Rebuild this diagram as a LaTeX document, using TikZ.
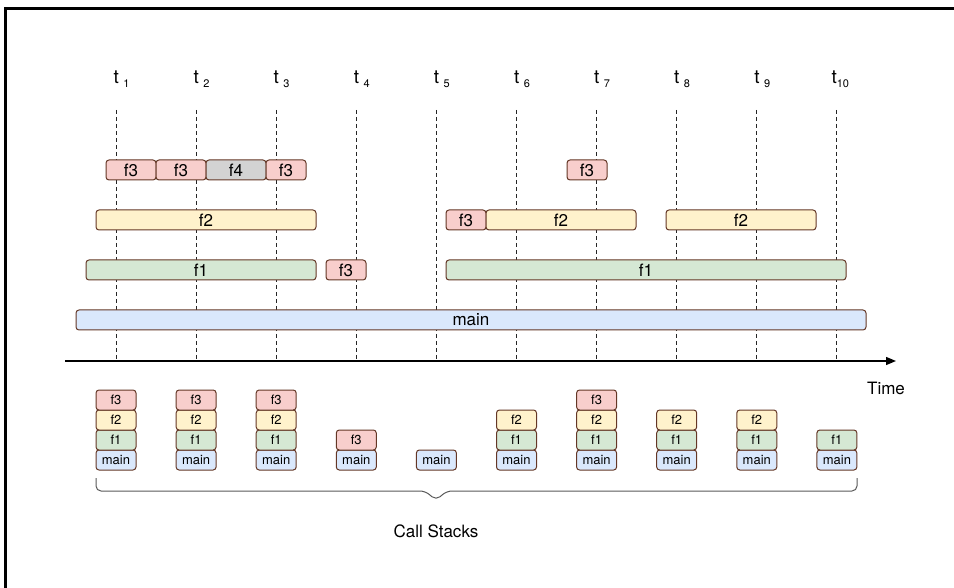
\documentclass[tikz,border=0pt]{standalone}
\usepackage{fontspec}
\setmainfont{TeX Gyre Heros}
\usetikzlibrary{arrows.meta}
\definecolor{cs_edge}{RGB}{100, 55, 38}
\definecolor{cs_red}{HTML}{F8CECC}
\definecolor{cs_yellow}{HTML}{FFF2CC}
\definecolor{cs_green}{HTML}{D5E8D4}
\definecolor{cs_blue}{HTML}{DAE8FC}
\definecolor{cs_gray}{HTML}{D3D3D3}
\newcommand{\tsub}[1]{\raisebox{-3.5pt}{\fontsize{11}{11}\selectfont #1}}

\begin{document}
\begin{tikzpicture}[
        x=1pt, y=-1pt,
        bar/.style={draw=cs_edge, line width=1pt, rounded corners=3pt,
                    minimum height=20pt, inner sep=0pt,
                    font=\fontsize{17}{17}\selectfont},
        stk/.style={bar, minimum width=40pt, font=\fontsize{13}{13}\selectfont},
        tick/.style={black!85, line width=1pt, dash pattern=on 4pt off 3pt},
        axis/.style={black, line width=1.3pt, -{Triangle[length=10pt, width=8pt]}},
        brace/.style={black!65, line width=1pt, rounded corners=5pt},
      ]
        \useasboundingbox (0,0) rectangle (954,588);
        % frame
        \draw[line width=3pt] (5,588) -- (5,9) -- (954,9);

        % time lines
        \foreach \i in {1,...,10} {
          \coordinate (top\i) at ({35.9+80.1*\i},110);
          \coordinate (bot\i) at ({35.9+80.1*\i},360);
          \draw[tick] (top\i) -- (bot\i);
        }
        \foreach \i in {1,...,9}
          \node[anchor=base west, inner sep=0pt, font=\fontsize{19}{19}\selectfont]
            (lbl\i) at ({33.2+80.1*\i},84) {t\hspace{4.5pt}\tsub{\i}};
        \node[anchor=base west, inner sep=0pt, font=\fontsize{19}{19}\selectfont]
          (lbl10) at (831.3,84) {t\tsub{10}};

        % execution bars
        \node[bar, fill=cs_red,  minimum width=50pt] (r1a) at (131,170) {f3};
        \node[bar, fill=cs_red,  minimum width=50pt] (r1b) at (181,170) {f3};
        \node[bar, fill=cs_gray, minimum width=60pt] (r1c) at (236,170) {f4};
        \node[bar, fill=cs_red,  minimum width=40pt] (r1d) at (286,170) {f3};
        \node[bar, fill=cs_red,  minimum width=40pt] (r1e) at (587,170) {f3};

        \node[bar, fill=cs_yellow, minimum width=220pt] (r2a) at (206,220) {f2};
        \node[bar, fill=cs_red,    minimum width=40pt]  (r2b) at (466,220) {f3};
        \node[bar, fill=cs_yellow, minimum width=150pt] (r2c) at (561,220) {f2};
        \node[bar, fill=cs_yellow, minimum width=150pt] (r2d) at (741,220) {f2};

        \node[bar, fill=cs_green, minimum width=230pt] (r3a) at (201,270) {f1};
        \node[bar, fill=cs_red,   minimum width=40pt]  (r3b) at (346,270) {f3};
        \node[bar, fill=cs_green, minimum width=400pt] (r3c) at (646,270) {f1};

        \node[bar, fill=cs_blue, minimum width=790pt] (r4a) at (471,320) {main};

        % time axis
        \coordinate (axstart) at (65,361);
        \coordinate (axend) at (896,361);
        \draw[axis] (axstart) -- (axend);
        \node[font=\fontsize{17}{17}\selectfont] (time) at (886,388) {Time};

        % call stacks
        \foreach \i in {1,...,10}
          \node[stk, fill=cs_blue] (main\i) at ({35.9+80.1*\i},460) {main};
        \foreach \i in {1,2,3,6,7,8,9,10}
          \node[stk, fill=cs_green] (fa\i) at ({35.9+80.1*\i},440) {f1};
        \foreach \i in {1,2,3,6,7,8,9}
          \node[stk, fill=cs_yellow] (fb\i) at ({35.9+80.1*\i},420) {f2};
        \foreach \i in {1,2,3,7}
          \node[stk, fill=cs_red] (fc\i) at ({35.9+80.1*\i},400) {f3};
        \node[stk, fill=cs_red] (fc4) at (top4 |- 0,440) {f3};

        % brace
        \coordinate (brl) at (96,478);
        \coordinate (brtip) at (436,500);
        \coordinate (brr) at (857,478);
        \draw[brace] (brl) -- (96,491) -- (425,491) -- (brtip) -- (447,491)
          -- (857,491) -- (brr);
        \node[font=\fontsize{17}{17}\selectfont] (calls) at (436,531) {Call Stacks};
      \end{tikzpicture}
\end{document}
